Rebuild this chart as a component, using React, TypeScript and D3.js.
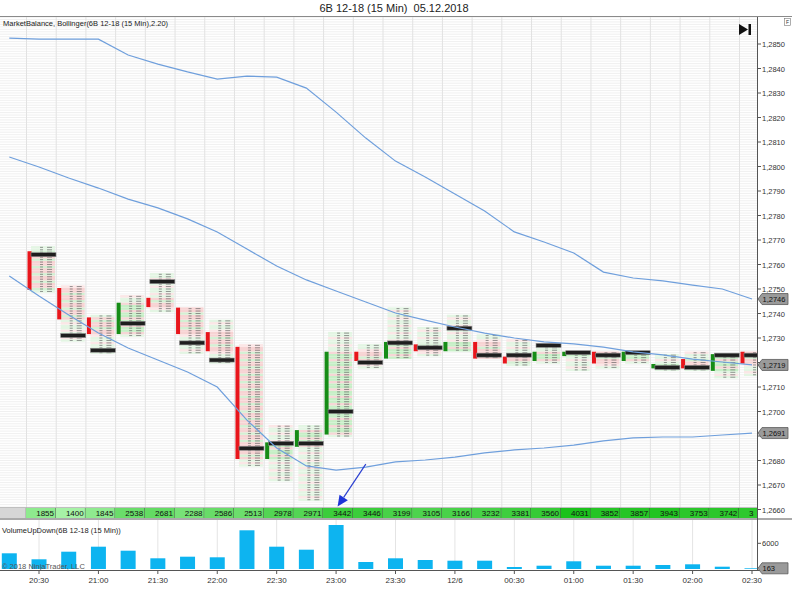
import React from "react";
import * as d3 from "d3";

// ---------- DATA ----------
const barTimes = [
  "2018-12-05 20:15", "2018-12-05 20:30", "2018-12-05 20:45", "2018-12-05 21:00",
  "2018-12-05 21:15", "2018-12-05 21:30", "2018-12-05 21:45", "2018-12-05 22:00",
  "2018-12-05 22:15", "2018-12-05 22:30", "2018-12-05 22:45", "2018-12-05 23:00",
  "2018-12-05 23:15", "2018-12-05 23:30", "2018-12-05 23:45", "2018-12-06 00:00",
  "2018-12-06 00:15", "2018-12-06 00:30", "2018-12-06 00:45", "2018-12-06 01:00",
  "2018-12-06 01:15", "2018-12-06 01:30", "2018-12-06 01:45", "2018-12-06 02:00",
  "2018-12-06 02:15", "2018-12-06 02:30",
];

const opens: (number | null)[] = [null, 1.2765, 1.2750, 1.2738, 1.2732, 1.2746, 1.2742, 1.2732, 1.2726, 1.2681, 1.2686, 1.2691, 1.2724, 1.2722, 1.2727, 1.2725, 1.2728, 1.2722, 1.2721, 1.2723, 1.2724, 1.2721, 1.2718, 1.2721, 1.2717, 1.2724];
const highs: (number | null)[] = [null, 1.2767, 1.2751, 1.2739, 1.2747, 1.2756, 1.2742, 1.2737, 1.2727, 1.2694, 1.2694, 1.2732, 1.2727, 1.2742, 1.2734, 1.2739, 1.2731, 1.2729, 1.2727, 1.2724, 1.2724, 1.2724, 1.2723, 1.2724, 1.2723, 1.2724];
const lows: (number | null)[] = [null, 1.2749, 1.2729, 1.2724, 1.2731, 1.2741, 1.2724, 1.2720, 1.2678, 1.2672, 1.2664, 1.2690, 1.2718, 1.2722, 1.2723, 1.2725, 1.2722, 1.2719, 1.2720, 1.2717, 1.2718, 1.2720, 1.2717, 1.2717, 1.2714, 1.2715];
const closes: (number | null)[] = [null, 1.2750, 1.2738, 1.2732, 1.2744, 1.2743, 1.2732, 1.2725, 1.2681, 1.2687, 1.2692, 1.2724, 1.2721, 1.2728, 1.2725, 1.2728, 1.2722, 1.2720, 1.2724, 1.2724, 1.2720, 1.2724, 1.2719, 1.2718, 1.2723, 1.2720];
const pocs: (number | null)[] = [null, 1.2764, 1.2731, 1.2725, 1.2736, 1.2753, 1.2728, 1.2721, 1.2685, 1.2687, 1.2687, 1.2700, 1.2720, 1.2728, 1.2726, 1.2734, 1.2723, 1.2723, 1.2727, 1.2724, 1.2723, 1.2724, 1.2718, 1.2718, 1.2723, 1.2723];

const bbUpper = [1.28524, 1.28520, 1.28520, 1.28520, 1.28455, 1.28418, 1.28386, 1.28357, 1.28369, 1.28365, 1.28320, 1.28222, 1.28116, 1.28022, 1.27957, 1.27888, 1.27818, 1.27733, 1.27692, 1.27647, 1.27569, 1.27545, 1.27533, 1.27516, 1.27500, 1.27459];
const bbMiddle = [1.28039, 1.27998, 1.27953, 1.27912, 1.27867, 1.27831, 1.27786, 1.27733, 1.27663, 1.27594, 1.27537, 1.27492, 1.27447, 1.27402, 1.27373, 1.27345, 1.27320, 1.27300, 1.27284, 1.27276, 1.27263, 1.27243, 1.27231, 1.27214, 1.27202, 1.27190];
const bbLower = [1.27553, 1.27471, 1.27394, 1.27320, 1.27259, 1.27210, 1.27161, 1.27100, 1.26965, 1.26851, 1.26778, 1.26761, 1.26773, 1.26794, 1.26802, 1.26814, 1.26831, 1.26843, 1.26851, 1.26863, 1.26880, 1.26892, 1.26896, 1.26896, 1.26904, 1.26912];

const barTotals: (number | null)[] = [null, 1855, 1400, 1845, 2538, 2681, 2288, 2586, 2513, 2978, 2971, 3442, 3446, 3199, 3105, 3166, 3232, 3381, 3560, 4031, 3852, 3857, 3943, 3753, 3742, 3690];

const volumes = [3665, 2265, 4040, 5207, 4273, 2498, 2872, 2732, 9036, 5207, 4506, 10273, 1634, 2498, 2101, 1938, 1938, 467, 770, 1798, 770, 770, 934, 1097, 537, 163];

const priceTicks = [1.2660, 1.2670, 1.2680, 1.2690, 1.2700, 1.2710, 1.2720, 1.2730, 1.2740, 1.2750, 1.2760, 1.2770, 1.2780, 1.2790, 1.2800, 1.2810, 1.2820, 1.2830, 1.2840, 1.2850];
const volumeTicks = [6000];

const arrowFrom = { bar: 12, price: 1.26785 };
const arrowTo = { bar: 11, price: 1.26612 };

const TICK = 0.0001;
const W = 792;
const H = 600;

// ---------- COMPONENT ----------
export default function App() {
  const parse = d3.timeParse("%Y-%m-%d %H:%M");
  const dates = barTimes.map((s) => parse(s) as Date);

  const axisX = 757;
  const priceTop = 17;
  const priceBottom = 519;
  const rowTop = 508;
  const rowBottom = 518;
  const volTop = 520;
  const volBase = 569;
  const panelBottom = 571;

  const x = d3.scaleTime().domain([dates[0], dates[dates.length - 1]]).range([9.3, 752]);
  const slotW = x(dates[1]) - x(dates[0]);
  const yP = d3.scaleLinear().domain([1.2660, 1.2850]).range([509.5, 44]);
  const yV = d3.scaleLinear().domain([0, 6000]).range([volBase, 543.3]);

  const fmtP = (v: number) => d3.format(".4f")(v).replace(".", ",");
  const fmtT = (d: Date) => (d.getHours() === 0 && d.getMinutes() === 0 ? d3.timeFormat("%-m/%-d")(d) : d3.timeFormat("%H:%M")(d));
  const timeTicks = x.ticks(d3.timeMinute.every(30) as any);

  const totalsExt = d3.extent(barTotals.filter((v) => v != null) as number[]) as [number, number];
  const cellColor = d3.scaleLinear<string>().domain(totalsExt).range(["#a6f2a6", "#1cc21c"]);

  const bbLine = d3.line<number>().x((_, i) => x(dates[i])).y((v) => yP(v)).curve(d3.curveLinear);

  const fineGrid: number[] = [];
  for (let k = 0; k < 230; k++) {
    const p = 1.2640 + k * TICK;
    const yy = yP(p);
    if (yy > priceTop && yy < rowTop) fineGrid.push(yy);
  }

  const font = "Arial, 'Liberation Sans', sans-serif";

  const lastVals = [bbUpper[bbUpper.length - 1], bbMiddle[bbMiddle.length - 1], bbLower[bbLower.length - 1]];
  const markerYs = lastVals.map((v) => yP(v));
  const visiblePriceTicks = priceTicks.filter((p) => markerYs.every((my) => Math.abs(yP(p) - my) > 8));

  const marker = (yy: number, label: string, key: string) => (
    <g key={key}>
      <path d={`M${axisX + 1},${yy} L${axisX + 5},${yy - 5.5} L${axisX + 31},${yy - 5.5} L${axisX + 31},${yy + 5.5} L${axisX + 5},${yy + 5.5} Z`} fill="#9a9a9a" stroke="#5a5a5a" strokeWidth={0.8} />
      <text x={axisX + 5.5} y={yy + 3} fontSize={7.5} fill="#111">{label}</text>
    </g>
  );

  const red = "#e8161c";
  const green = "#168c16";

  return (
    <svg width={W} height={H} style={{ position: "absolute", left: 0, top: 0, background: "#fff" }} fontFamily={font}>
      <defs>
        <clipPath id="pclip"><rect x={0} y={priceTop} width={axisX} height={rowTop - priceTop} /></clipPath>
        <clipPath id="rclip"><rect x={0} y={rowTop} width={axisX} height={rowBottom - rowTop + 1} /></clipPath>
        <clipPath id="vclip"><rect x={0} y={volTop} width={axisX} height={volBase - volTop + 1} /></clipPath>
      </defs>
      <rect x={0} y={0} width={W} height={H} fill="#fff" />

      {/* title */}
      <text x={394} y={12} fontSize={11} textAnchor="middle" fill="#222" style={{ whiteSpace: "pre" }}>{"6B 12-18 (15 Min)  05.12.2018"}</text>
      <line x1={0} x2={W} y1={16.5} y2={16.5} stroke="#8a8a8a" strokeWidth={1} />

      {/* price panel */}
      <g clipPath="url(#pclip)">
        {fineGrid.map((yy, i) => (
          <line key={"fg" + i} x1={0} x2={axisX} y1={yy} y2={yy} stroke="#e9e9e9" strokeWidth={0.7} />
        ))}
        {dates.map((d, i) => (
          <line key={"vg" + i} x1={x(d) - 13 + 0.5} x2={x(d) - 13 + 0.5} y1={priceTop} y2={rowTop} stroke="#e2e2e2" strokeWidth={1} />
        ))}

        {dates.map((d, i) => {
          const o = opens[i], h = highs[i], l = lows[i], c = closes[i], poc = pocs[i];
          if (o == null || h == null || l == null || c == null || poc == null) return null;
          const cx = x(d);
          const up = c >= o;
          const nRows = Math.round((h - l) / TICK) + 1;
          const bodyHi = Math.max(o, c), bodyLo = Math.min(o, c);
          const rows = d3.range(nRows).map((k) => l + k * TICK);
          const rh = yP(0) - yP(TICK);
          return (
            <g key={"fp" + i}>
              {rows.map((p, k) => {
                const inBody = p <= bodyHi + 1e-9 && p >= bodyLo - 1e-9;
                const g = k % 3 !== 1;
                const fill = inBody
                  ? (up ? (g ? "#c6efc6" : "#f6d6d6") : (g ? "#f7d3d3" : "#d3f0d3"))
                  : (g ? "#e3f5e3" : "#fbe6e6");
                return (
                  <g key={k}>
                    <rect x={cx - 8} y={yP(p) - rh / 2} width={24} height={rh} fill={fill} />
                    <rect x={cx + 1} y={yP(p) - 0.5} width={3} height={1} fill="#6a6a6a" opacity={0.7} />
                    <rect x={cx + 8} y={yP(p) - 0.5} width={5} height={1} fill="#6a6a6a" opacity={0.7} />
                  </g>
                );
              })}
              <rect x={cx - 11.5} y={yP(bodyHi) - 1} width={4} height={Math.max(2, yP(bodyLo) - yP(bodyHi) + 2)} fill={up ? green : red} />
              <rect x={cx - 8} y={yP(poc) - 2} width={25} height={4} fill="#1e1e1e" stroke="#8a8a8a" strokeWidth={0.6} />
            </g>
          );
        })}

        {[bbUpper, bbMiddle, bbLower].map((s, k) => (
          <path key={"bb" + k} d={bbLine(s) || ""} fill="none" stroke="#6f9fdc" strokeWidth={1.2} />
        ))}

        {(() => {
          const x1 = x(dates[arrowFrom.bar]), y1 = yP(arrowFrom.price);
          const x2 = x(dates[arrowTo.bar]) + 1.5, y2 = yP(arrowTo.price);
          const ang = Math.atan2(y2 - y1, x2 - x1);
          const L = 11, Wd = 5;
          const bx = x2 - L * Math.cos(ang), by = y2 - L * Math.sin(ang);
          const px = -Math.sin(ang) * Wd, py = Math.cos(ang) * Wd;
          return (
            <g>
              <line x1={x1} y1={y1} x2={bx} y2={by} stroke="#2a3fd0" strokeWidth={1.2} />
              <path d={`M${x2},${y2} L${bx + px},${by + py} L${bx - px},${by - py} Z`} fill="#1f35d8" />
            </g>
          );
        })()}
      </g>

      <text x={3} y={26} fontSize={7.5} fill="#222">MarketBalance, Bollinger(6B 12-18 (15 Min),2.20)</text>

      <path d="M739,24 L739,35 L748,29.5 Z" fill="#111" />
      <rect x={748.5} y={24} width={2.5} height={11} fill="#111" />
      <rect x={784.5} y={18.5} width={6} height={7} fill="#fff" stroke="#777" strokeWidth={0.6} />
      <text x={787.5} y={24} fontSize={5} textAnchor="middle" fill="#333">F</text>

      {/* totals row */}
      <g clipPath="url(#rclip)">
        {dates.map((d, i) => {
          const cx = x(d);
          const v = barTotals[i];
          const x0 = i === 0 ? 0 : cx - 13;
          const w = i === 0 ? cx + 17 : slotW;
          const fits = cx + 15 <= axisX;
          return (
            <g key={"tc" + i}>
              <rect x={x0} y={rowTop} width={w} height={rowBottom - rowTop} fill={v == null ? "#d6d6d6" : cellColor(v)} />
              <line x1={x0 + w} x2={x0 + w} y1={rowTop} y2={rowBottom} stroke="#333" strokeWidth={0.8} />
              {v != null && fits && (
                <text x={cx + 15} y={rowBottom - 2} fontSize={8} textAnchor="end" fill="#111">{v}</text>
              )}
              {v != null && !fits && (
                <text x={cx - 3} y={rowBottom - 2} fontSize={8} textAnchor="start" fill="#111">{String(v).slice(0, 1)}</text>
              )}
            </g>
          );
        })}
      </g>
      <line x1={0} x2={axisX} y1={rowTop - 0.5} y2={rowTop - 0.5} stroke="#9a9a9a" strokeWidth={0.6} />
      <line x1={0} x2={W} y1={priceBottom} y2={priceBottom} stroke="#555" strokeWidth={1} />

      {/* volume panel */}
      {timeTicks.map((t, i) => (
        <line key={"vgt" + i} x1={x(t)} x2={x(t)} y1={volTop} y2={volBase} stroke="#e4e4e4" strokeWidth={1} />
      ))}
      <g clipPath="url(#vclip)">
        {volumes.map((v, i) => (
          <rect key={"vb" + i} x={x(dates[i]) - 7.5} y={yV(v)} width={15} height={volBase - yV(v)} fill="#0db4f0" />
        ))}
      </g>
      <text x={2} y={533} fontSize={7.5} fill="#222">VolumeUpDown(6B 12-18 (15 Min))</text>
      <text x={2} y={569} fontSize={7.5} fill="#555">© 2018 NinjaTrader, LLC</text>
      <line x1={0} x2={axisX + 3} y1={panelBottom - 0.5} y2={panelBottom - 0.5} stroke="#555" strokeWidth={1} />

      {timeTicks.map((t, i) => (
        <g key={"tt" + i}>
          <line x1={x(t)} x2={x(t)} y1={panelBottom} y2={panelBottom + 3} stroke="#555" />
          <text x={x(t)} y={583} fontSize={8} textAnchor="middle" fill="#333">{fmtT(t)}</text>
        </g>
      ))}

      {/* right axis */}
      <line x1={axisX + 0.5} x2={axisX + 0.5} y1={priceTop} y2={panelBottom} stroke="#555" strokeWidth={1} />
      {priceTicks.map((p, i) => (
        <line key={"ptl" + i} x1={axisX} x2={axisX + 4} y1={yP(p)} y2={yP(p)} stroke="#555" />
      ))}
      {visiblePriceTicks.map((p, i) => (
        <text key={"pt" + i} x={axisX + 5} y={yP(p) + 3} fontSize={7.5} fill="#333">{fmtP(p)}</text>
      ))}
      {volumeTicks.map((v, i) => (
        <g key={"vt" + i}>
          <line x1={axisX} x2={axisX + 4} y1={yV(v)} y2={yV(v)} stroke="#555" />
          <text x={axisX + 5} y={yV(v) + 3} fontSize={7.5} fill="#333">{v}</text>
        </g>
      ))}
      {lastVals.map((v, k) => marker(markerYs[k], fmtP(v), "m" + k))}
      {marker(yV(volumes[volumes.length - 1]), String(volumes[volumes.length - 1]), "mv")}
    </svg>
  );
}
